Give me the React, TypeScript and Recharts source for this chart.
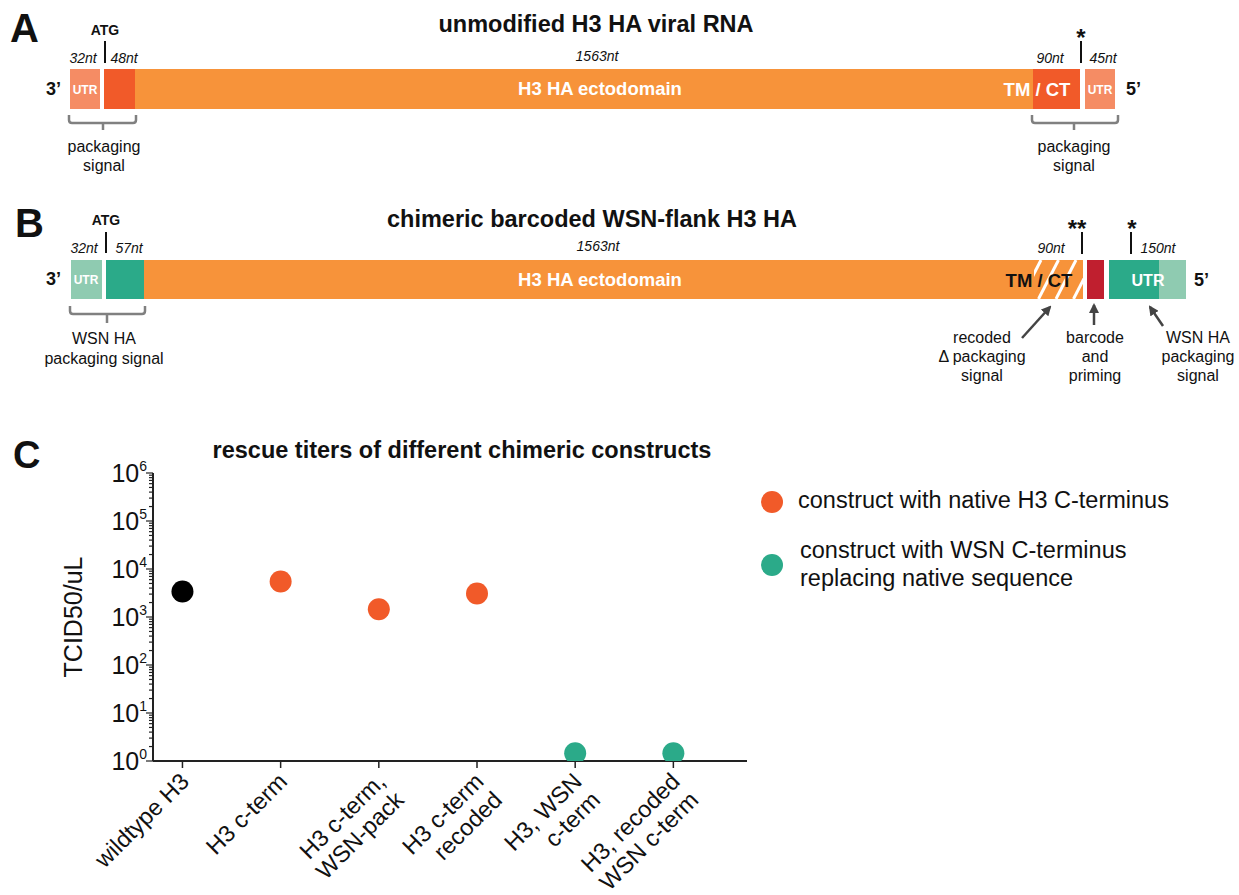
import React from 'react';
import { ScatterChart, Scatter, XAxis, YAxis } from 'recharts';

// ---------- data (panel C) ----------
const categories: string[][] = [
  ['wildtype H3'],
  ['H3 c-term'],
  ['H3 c-term,', 'WSN-pack'],
  ['H3 c-term', 'recoded'],
  ['H3, WSN', 'c-term'],
  ['H3, recoded', 'WSN c-term'],
];
const titers = [3400, 5500, 1450, 3100, 1.45, 1.45];
const groups = ['wildtype', 'native', 'native', 'native', 'wsn', 'wsn'];
const yMajorTicks = [1, 10, 100, 1000, 10000, 100000, 1000000];
const yTickExponents = ['0', '1', '2', '3', '4', '5', '6'];
const xTicks = [0, 1, 2, 3, 4, 5];
const legendLabels = {
  native: ['construct with native H3 C-terminus'],
  wsn: ['construct with WSN C-terminus', 'replacing native sequence'],
};

const COLORS: Record<string, string> = {
  wildtype: '#000000',
  native: '#F15A29',
  wsn: '#2BAA89',
};
const ORANGE = '#F7933A';
const RED_ORANGE = '#F15A29';
const SALMON = '#F58C64';
const TEAL = '#2BAA89';
const LIGHT_TEAL = '#8FCBB1';
const BARCODE = '#C01F2F';
const GRAY = '#808080';
const FONT = '"Liberation Sans", Arial, Helvetica, sans-serif';

const points = titers.map((v, i) => ({ x: i, y: v, group: groups[i] }));
const seriesData = (g: string) => points.filter((p) => p.group === g);

const minorTicks: number[] = [];
yMajorTicks.slice(0, -1).forEach((d) => {
  for (let m = 2; m <= 9; m++) minorTicks.push(d * m);
});
const allYTicks = [...yMajorTicks, ...minorTicks].sort((a, b) => a - b);

// ---------- ticks ----------
const YTick = (props: any) => {
  const { x, y, payload } = props;
  const v = payload.value;
  const idx = yMajorTicks.indexOf(v);
  const major = idx >= 0;
  return (
    <g>
      <line x1={x} x2={x - (major ? 7 : 4)} y1={y} y2={y} stroke="#222" strokeWidth={1.2} />
      {major && (
        <text x={x - 6} y={y + 9} textAnchor="end" fontFamily={FONT} fontSize={25} fill="#111">
          10
          <tspan dy={-11} fontSize={14}>{yTickExponents[idx]}</tspan>
        </text>
      )}
    </g>
  );
};

const XTick = (props: any) => {
  const { x, y, payload } = props;
  const lines = categories[payload.value] || [];
  return (
    <g>
      <line x1={x} x2={x} y1={y} y2={y + 7} stroke="#222" strokeWidth={1.5} />
      <g transform={`translate(${x + 8}, ${y + 22}) rotate(-45)`}>
        <text textAnchor="end" fontFamily={FONT} fontSize={23.5} fill="#111">
          {lines.map((l, i) => (
            <tspan key={i} x={0} dy={i === 0 ? 0 : 26}>
              {l}
            </tspan>
          ))}
        </text>
      </g>
    </g>
  );
};

const dotShape = (color: string) => (p: any) => <circle cx={p.cx} cy={p.cy} r={11} fill={color} />;

// ---------- diagram helpers ----------
const Bracket = ({ x1, x2, xc, y0, y1, y2 }: any) => (
  <path
    d={`M${x1} ${y0} V${y1 - 3} Q${x1} ${y1} ${x1 + 3} ${y1} H${x2 - 3} Q${x2} ${y1} ${x2} ${y1 - 3} V${y0} M${xc} ${y1} V${y2}`}
    fill="none"
    stroke={GRAY}
    strokeWidth={2.5}
  />
);

const T = ({ x, y, size = 14, weight = 'normal', italic = false, fill = '#111', anchor = 'middle', children }: any) => (
  <text
    x={x}
    y={y}
    fontFamily={FONT}
    fontSize={size}
    fontWeight={weight}
    fontStyle={italic ? 'italic' : 'normal'}
    fill={fill}
    textAnchor={anchor}
  >
    {children}
  </text>
);

const hatchOffsets = [-2, -1, 0, 1, 2, 3];

const Diagrams = () => (
  <svg
    width={1239}
    height={895}
    style={{ position: 'absolute', left: 0, top: 0, pointerEvents: 'none' }}
  >
    <defs>
      <marker id="arrow" viewBox="0 0 10 10" refX="8" refY="5" markerWidth="4" markerHeight="4" orient="auto">
        <path d="M0 0 L10 5 L0 10 z" fill="#444" />
      </marker>
      <clipPath id="hatchClip">
        <rect x={1034} y={260} width={49} height={39} />
      </clipPath>
    </defs>

    {/* ---------- Panel A ---------- */}
    <T x={10} y={42} size={40} weight="bold" anchor="start">A</T>
    <T x={596} y={32} size={23.5} weight="bold">unmodified H3 HA viral RNA</T>
    <T x={105} y={35} size={14} weight="bold">ATG</T>
    <line x1={105} x2={105} y1={41} y2={63} stroke="#111" strokeWidth={2} />
    <T x={83} y={63} italic>32nt</T>
    <T x={124} y={63} italic>48nt</T>
    <T x={597} y={61} italic>1563nt</T>
    <T x={1050} y={63} italic>90nt</T>
    <T x={1103} y={63} italic>45nt</T>
    <T x={1081} y={46} size={24} weight="bold">*</T>
    <line x1={1081} x2={1081} y1={41} y2={63} stroke="#111" strokeWidth={2} />

    <rect x={70} y={69} width={30} height={40} fill={SALMON} />
    <rect x={104} y={69} width={31} height={40} fill={RED_ORANGE} />
    <rect x={135} y={69} width={898} height={40} fill={ORANGE} />
    <rect x={1033} y={69} width={47} height={40} fill={RED_ORANGE} />
    <rect x={1085} y={69} width={30} height={40} fill={SALMON} />
    <T x={85} y={94} size={12} weight="bold" fill="#fff">UTR</T>
    <T x={1100} y={94} size={12} weight="bold" fill="#fff">UTR</T>
    <T x={600} y={95} size={18.5} weight="bold" fill="#fff">H3 HA ectodomain</T>
    <T x={1037} y={96} size={18.5} weight="bold" fill="#fff">TM / CT</T>
    <T x={46} y={95} size={18} weight="bold" anchor="start">3’</T>
    <T x={1126} y={95} size={18} weight="bold" anchor="start">5’</T>

    <Bracket x1={69} x2={136} xc={103} y0={115} y1={123} y2={130} />
    <Bracket x1={1032} x2={1118} xc={1074} y0={115} y1={123} y2={130} />
    <T x={104} y={152} size={16}>packaging</T>
    <T x={104} y={171} size={16}>signal</T>
    <T x={1074} y={152} size={16}>packaging</T>
    <T x={1074} y={171} size={16}>signal</T>

    {/* ---------- Panel B ---------- */}
    <T x={15} y={237} size={40} weight="bold" anchor="start">B</T>
    <T x={592} y={227} size={23.5} weight="bold">chimeric barcoded WSN-flank H3 HA</T>
    <T x={106} y={225} size={14} weight="bold">ATG</T>
    <line x1={106} x2={106} y1={232} y2={253} stroke="#111" strokeWidth={2} />
    <T x={84} y={253} italic>32nt</T>
    <T x={129} y={253} italic>57nt</T>
    <T x={598} y={251} italic>1563nt</T>
    <T x={1051} y={253} italic>90nt</T>
    <T x={1158} y={253} italic>150nt</T>
    <T x={1077} y={237} size={24} weight="bold">**</T>
    <line x1={1082} x2={1082} y1={232} y2={254} stroke="#111" strokeWidth={2} />
    <T x={1132} y={237} size={24} weight="bold">*</T>
    <line x1={1131} x2={1131} y1={232} y2={254} stroke="#111" strokeWidth={2} />

    <rect x={71} y={260} width={31} height={39} fill={LIGHT_TEAL} />
    <rect x={106} y={260} width={38} height={39} fill={TEAL} />
    <rect x={144} y={260} width={890} height={39} fill={ORANGE} />
    <rect x={1034} y={260} width={49} height={39} fill={ORANGE} />
    <g clipPath="url(#hatchClip)">
      {hatchOffsets.map((k) => (
        <line
          key={k}
          x1={1041 + 17.5 * k}
          y1={260}
          x2={1041 + 17.5 * k - 20}
          y2={299}
          stroke="#fff"
          strokeWidth={3}
        />
      ))}
    </g>
    <rect x={1087} y={260} width={17} height={39} fill={BARCODE} />
    <rect x={1109} y={260} width={50} height={39} fill={TEAL} />
    <rect x={1159} y={260} width={27} height={39} fill={LIGHT_TEAL} />
    <T x={86} y={284} size={12} weight="bold" fill="#fff">UTR</T>
    <T x={600} y={286} size={18.5} weight="bold" fill="#fff">H3 HA ectodomain</T>
    <T x={1039} y={287} size={18.5} weight="bold" fill="#111">TM / CT</T>
    <T x={1148} y={286} size={16} weight="bold" fill="#fff">UTR</T>
    <T x={46} y={285} size={18} weight="bold" anchor="start">3’</T>
    <T x={1194} y={286} size={18} weight="bold" anchor="start">5’</T>

    <Bracket x1={70} x2={145} xc={107} y0={306} y1={314} y2={323} />
    <T x={104} y={344} size={16}>WSN HA</T>
    <T x={104} y={364} size={16}>packaging signal</T>

    <line x1={1022} y1={338} x2={1050} y2={307} stroke="#444" strokeWidth={2.5} markerEnd="url(#arrow)" />
    <line x1={1094} y1={325} x2={1094} y2={305} stroke="#444" strokeWidth={2.5} markerEnd="url(#arrow)" />
    <line x1={1163} y1={326} x2={1150} y2={307} stroke="#444" strokeWidth={2.5} markerEnd="url(#arrow)" />

    <T x={982} y={343} size={16}>recoded</T>
    <T x={982} y={362} size={16}>Δ packaging</T>
    <T x={982} y={381} size={16}>signal</T>
    <T x={1095} y={343} size={16}>barcode</T>
    <T x={1095} y={362} size={16}>and</T>
    <T x={1095} y={381} size={16}>priming</T>
    <T x={1198} y={343} size={16}>WSN HA</T>
    <T x={1198} y={362} size={16}>packaging</T>
    <T x={1198} y={381} size={16}>signal</T>

    {/* ---------- Panel C annotations ---------- */}
    <T x={13} y={468} size={38} weight="bold" anchor="start">C</T>
    <T x={462} y={458} size={23.5} weight="bold">rescue titers of different chimeric constructs</T>
    <g transform="translate(82, 617) rotate(-90)">
      <T x={0} y={0} size={25}>TCID50/uL</T>
    </g>

    {/* legend */}
    <circle cx={772} cy={502} r={11} fill={COLORS.native} />
    <T x={798} y={508} size={23.5} anchor="start">{legendLabels.native[0]}</T>
    <circle cx={772} cy={565} r={11} fill={COLORS.wsn} />
    <T x={800} y={558} size={23.5} anchor="start">{legendLabels.wsn[0]}</T>
    <T x={800} y={586} size={23.5} anchor="start">{legendLabels.wsn[1]}</T>
  </svg>
);

export default function App() {
  return (
    <div style={{ position: 'absolute', left: 0, top: 0, width: 1239, height: 895, background: '#fff', overflow: 'hidden' }}>
      <ScatterChart width={1239} height={895} margin={{ top: 473, right: 492, bottom: 104, left: 73 }}>
        <XAxis
          type="number"
          dataKey="x"
          domain={[-0.3, 5.75]}
          ticks={xTicks}
          interval={0}
          allowDataOverflow
          tickLine={false}
          tickSize={0}
          tickMargin={0}
          height={30}
          axisLine={{ stroke: '#222', strokeWidth: 2 }}
          tick={<XTick />}
        />
        <YAxis
          type="number"
          dataKey="y"
          scale="log"
          domain={[1, 1000000]}
          ticks={allYTicks}
          interval={0}
          allowDataOverflow
          tickLine={false}
          tickSize={0}
          tickMargin={0}
          width={80}
          axisLine={{ stroke: '#222', strokeWidth: 2 }}
          tick={<YTick />}
        />
        <Scatter data={seriesData('wildtype')} isAnimationActive={false} shape={dotShape(COLORS.wildtype)} />
        <Scatter data={seriesData('native')} isAnimationActive={false} shape={dotShape(COLORS.native)} />
        <Scatter data={seriesData('wsn')} isAnimationActive={false} shape={dotShape(COLORS.wsn)} />
      </ScatterChart>
      <Diagrams />
    </div>
  );
}
